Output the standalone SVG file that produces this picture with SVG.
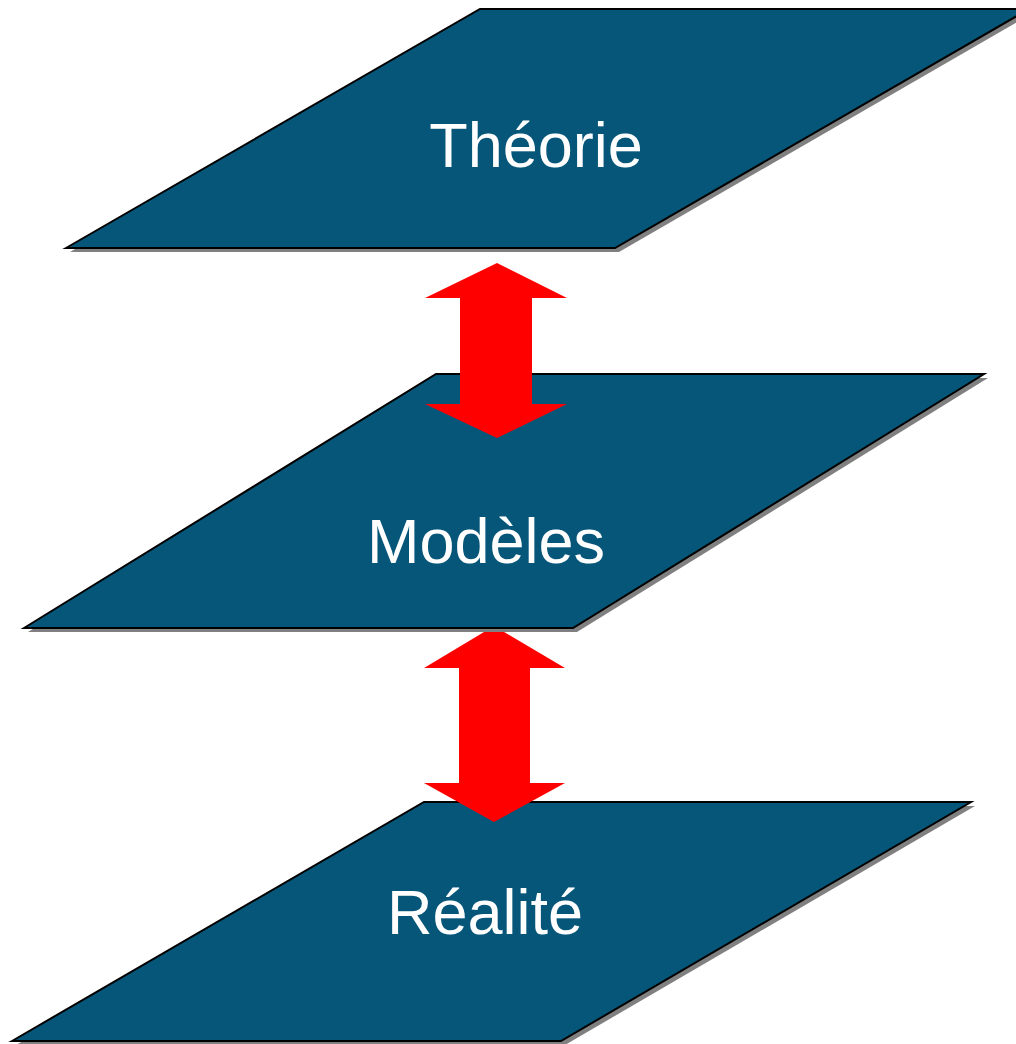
<svg xmlns="http://www.w3.org/2000/svg" width="1016" height="1044" viewBox="0 0 1016 1044">
<style>
.plate{fill:#065679;stroke:#000;stroke-width:2;stroke-linejoin:miter}
.shadow{fill:#808080}
.arrow{fill:#ff0000}
.lbl{font-family:"Liberation Sans",Arial,sans-serif;font-size:63px;fill:#fff;text-anchor:middle}
</style>
<rect width="1016" height="1044" fill="#fff"/>
<g id="node-realite">
<polygon class="shadow" points="16,1045 428,806 975,806 565,1045"/>
<polygon class="plate" points="12,1041 424,802 971,802 561,1041"/>
<text class="lbl" x="485" y="934">Réalité</text>
</g>
<g id="connectors-lower">
<polygon class="arrow" points="494,626 565,668 530,668 530,783 565,783 494,822 424,783 459,783 459,668 424,668"/>
</g>
<g id="node-modeles">
<polygon class="shadow" points="28,632 440,378 988,378 577,632"/>
<polygon class="plate" points="24,628 436,374 984,374 573,628"/>
<text class="lbl" x="486" y="563">Modèles</text>
</g>
<g id="connectors">
<polygon class="arrow" points="497,263 567,298 532,298 532,404 567,404 497,438 425,404 460,404 460,298 425,298"/>
</g>
<g id="node-theorie">
<polygon class="shadow" points="70,252 484,13 1033,13 619,252"/>
<polygon class="plate" points="66,248 480,9 1029,9 615,248"/>
<text class="lbl" x="536" y="167">Théorie</text>
</g>
</svg>
